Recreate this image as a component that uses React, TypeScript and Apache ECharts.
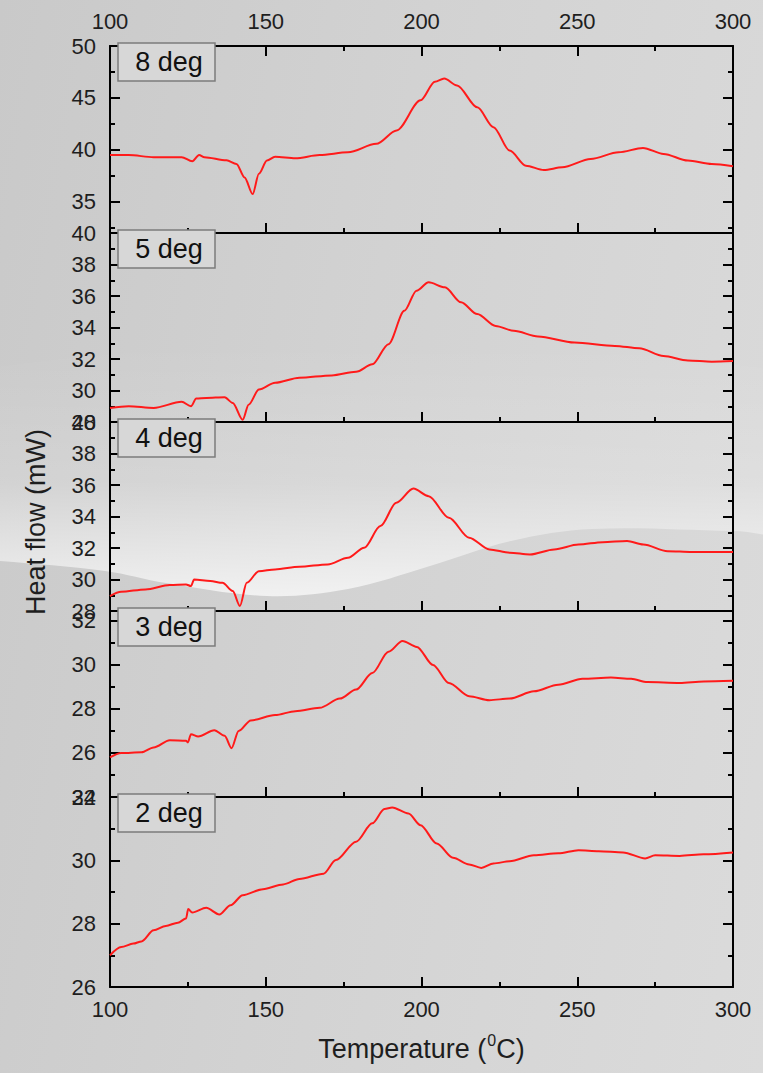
import React, { useEffect, useRef } from "react";
import * as echarts from "echarts";

// ---------- data ----------
const xTicks = [100, 150, 200, 250, 300];
const panelLabels = ["8 deg", "5 deg", "4 deg", "3 deg", "2 deg"];

const temp8 = [100, 106, 114, 123, 126.4, 128.6, 130.3, 137.4, 140.6, 143.2, 145.8, 147.8, 150.4, 153, 159.5, 167.3, 176.4, 185.5, 192, 199.7, 204.3, 207.3, 211.4, 217.9, 223.1, 228.3, 233.5, 239.3, 245.2, 254.3, 263.3, 271.1, 277.7, 285.5, 293.2, 300];
const flow8 = [39.5, 39.5, 39.3, 39.3, 38.9, 39.5, 39.3, 39.0, 38.65, 37.35, 35.75, 37.7, 38.97, 39.35, 39.2, 39.5, 39.77, 40.58, 41.87, 44.77, 46.55, 46.87, 46.2, 44.1, 42.19, 39.93, 38.48, 38.06, 38.32, 39.13, 39.77, 40.19, 39.61, 38.97, 38.64, 38.42];

const temp5 = [100, 106, 114, 123, 126, 127.7, 130.9, 136.8, 139.4, 142.6, 144.5, 147.8, 153, 160.8, 171.2, 179, 184.2, 189.4, 194.5, 198.4, 202.3, 207.5, 212.7, 217.9, 223.8, 229.6, 237.4, 249.1, 262.1, 269.9, 277.7, 285.5, 293.2, 300];
const flow5 = [28.89, 29.0, 28.89, 29.28, 29.0, 29.49, 29.53, 29.57, 29.21, 28.15, 29.1, 30.06, 30.49, 30.81, 30.96, 31.19, 31.66, 32.94, 35.06, 36.34, 36.87, 36.55, 35.6, 34.85, 34.1, 33.79, 33.43, 33.04, 32.83, 32.68, 32.19, 31.91, 31.83, 31.87];

const temp4 = [100, 103.6, 111.4, 119.2, 124.4, 126, 127, 132.2, 136.1, 139.4, 141.7, 143.9, 147.8, 153, 160.8, 169.9, 176.4, 181.6, 186.8, 191.9, 197.4, 202.3, 208.8, 215.3, 221.8, 228.3, 234.8, 242.6, 250.4, 258.2, 266, 271.2, 279, 286.8, 300];
const flow4 = [28.95, 29.22, 29.37, 29.65, 29.69, 29.58, 30.0, 29.9, 29.79, 29.27, 28.32, 29.79, 30.53, 30.64, 30.81, 30.96, 31.38, 32.01, 33.39, 34.87, 35.77, 35.29, 33.92, 32.65, 31.91, 31.7, 31.59, 31.91, 32.22, 32.37, 32.44, 32.22, 31.8, 31.74, 31.74];

const temp3 = [100, 103.6, 110.1, 114, 119.2, 124.4, 125, 126, 128.3, 133.5, 136.8, 139, 141.3, 145.2, 153, 159.5, 167.3, 173.8, 179, 184.2, 189.4, 193.9, 198.5, 203.7, 208.8, 215.3, 221.8, 228.3, 236.1, 243.9, 251.7, 260.8, 267.3, 272.5, 282.9, 290.6, 300];
const flow3 = [25.8, 26.0, 26.03, 26.25, 26.58, 26.55, 26.48, 26.85, 26.75, 27.03, 26.78, 26.22, 27.0, 27.48, 27.72, 27.9, 28.05, 28.47, 28.88, 29.63, 30.6, 31.09, 30.82, 30.0, 29.18, 28.58, 28.4, 28.47, 28.8, 29.1, 29.37, 29.43, 29.37, 29.22, 29.18, 29.25, 29.28];

const temp2 = [100, 103.6, 107.5, 110.1, 114, 117.9, 121.8, 124.4, 125.1, 126.4, 130.9, 135.1, 138.7, 142.6, 149.1, 155.6, 160.8, 168.6, 172.5, 179, 184.2, 188.1, 190.6, 195.8, 199.7, 204.9, 210.1, 215.3, 219.2, 223.1, 228.3, 236.1, 243.9, 250.4, 256.9, 264.7, 271.8, 275, 282.9, 290.6, 300];
const flow2 = [27.0, 27.26, 27.37, 27.44, 27.79, 27.93, 28.03, 28.16, 28.46, 28.35, 28.5, 28.29, 28.58, 28.9, 29.09, 29.24, 29.41, 29.58, 30.01, 30.59, 31.17, 31.62, 31.67, 31.48, 31.11, 30.53, 30.08, 29.87, 29.76, 29.9, 29.97, 30.16, 30.22, 30.32, 30.29, 30.25, 30.06, 30.16, 30.14, 30.19, 30.25];

const yMin = [32, 28, 28, 24, 26];
const yMax = [50, 40, 40, 32.45, 32];
const yMajor = [
  [35, 40, 45, 50],
  [28, 30, 32, 34, 36, 38, 40],
  [28, 30, 32, 34, 36, 38, 40],
  [24, 26, 28, 30, 32],
  [26, 28, 30, 32],
];
const yMinor = [
  [32.5, 37.5, 42.5, 47.5],
  [29, 31, 33, 35, 37, 39],
  [29, 31, 33, 35, 37, 39],
  [25, 27, 29, 31],
  [27, 29, 31],
];

const temps = [temp8, temp5, temp4, temp3, temp2];
const flows = [flow8, flow5, flow4, flow3, flow2];

// ---------- layout ----------
const FONT = '"Liberation Sans", Arial, Helvetica, sans-serif';
const gridTops = [46, 233, 422, 611, 797];
const gridBottoms = [233, 422, 611, 797, 987];
const LEFT = 110;
const RIGHT = 733;
const W = 763;
const H = 1073;
const TICK_FONT = 22;

export default function App() {
  const ref = useRef<HTMLDivElement>(null);

  useEffect(() => {
    if (!ref.current) return;
    const chart = echarts.init(ref.current, null, { renderer: "svg" });

    const line = { show: true, lineStyle: { color: "#000", width: 2 } };
    const tickStyle = { color: "#000", width: 2 };

    const grids = gridTops.map((t, i) => ({
      left: LEFT,
      width: RIGHT - LEFT,
      top: t,
      height: gridBottoms[i] - t,
    }));

    const xAxes: any[] = gridTops.map((_, i) => ({
      type: "value",
      gridIndex: i,
      position: "bottom",
      min: 100,
      max: 300,
      interval: 50,
      axisLine: line,
      axisTick: { show: true, inside: true, length: 10, lineStyle: tickStyle },
      minorTick: { show: true, splitNumber: 2, length: 5, lineStyle: tickStyle },
      splitLine: { show: false },
      minorSplitLine: { show: false },
      axisLabel: {
        show: i === 4,
        margin: 11,
        fontSize: TICK_FONT,
        color: "#1e1e1e",
        fontFamily: FONT,
      },
      name: i === 4 ? "{a|Temperature (}{s|0}{a|C)}" : "",
      nameLocation: "middle",
      nameGap: 45,
      nameTextStyle: {
        rich: {
          a: { fontSize: 27, fontFamily: FONT, color: "#1e1e1e", lineHeight: 34 },
          s: { fontSize: 16, fontFamily: FONT, color: "#1e1e1e", verticalAlign: "top", lineHeight: 34, padding: [0, 0, 8, 1] },
        },
      },
    }));
    xAxes.push({
      type: "value",
      gridIndex: 0,
      position: "top",
      min: 100,
      max: 300,
      interval: 50,
      axisLine: line,
      axisTick: { show: true, inside: true, length: 10, lineStyle: tickStyle },
      minorTick: { show: true, splitNumber: 2, length: 5, lineStyle: tickStyle },
      splitLine: { show: false },
      axisLabel: { show: true, margin: 14, fontSize: TICK_FONT, color: "#1e1e1e", fontFamily: FONT, customValues: xTicks },
    });

    const yAxes: any[] = [];
    gridTops.forEach((_, i) => {
      const base = { type: "value", gridIndex: i, min: yMin[i], max: yMax[i], splitLine: { show: false } };
      yAxes.push({
        ...base,
        position: "left",
        axisLine: line,
        axisTick: { show: true, inside: true, length: 10, lineStyle: tickStyle, customValues: yMajor[i] },
        axisLabel: { show: true, customValues: yMajor[i], margin: 14, fontSize: TICK_FONT, color: "#1e1e1e", fontFamily: FONT },
      });
      yAxes.push({
        ...base,
        position: "left",
        axisLine: { show: false },
        axisTick: { show: true, inside: true, length: 5, lineStyle: tickStyle, customValues: yMinor[i] },
        axisLabel: { show: false },
      });
      yAxes.push({
        ...base,
        position: "right",
        axisLine: line,
        axisTick: { show: true, inside: true, length: 10, lineStyle: tickStyle, customValues: yMajor[i] },
        axisLabel: { show: false },
      });
      yAxes.push({
        ...base,
        position: "right",
        axisLine: { show: false },
        axisTick: { show: true, inside: true, length: 5, lineStyle: tickStyle, customValues: yMinor[i] },
        axisLabel: { show: false },
      });
    });

    const series = temps.map((tx, i) => ({
      type: "line",
      xAxisIndex: i,
      yAxisIndex: i * 4,
      data: tx.map((x, k) => [x, flows[i][k]]),
      showSymbol: false,
      smooth: 0.3,
      smoothMonotone: "x",
      lineStyle: { color: "#ff1a1a", width: 2 },
      itemStyle: { color: "#ff1a1a" },
      z: 3,
    }));

    const boxes = gridTops.map((t, i) => ({
      type: "group",
      z: 20,
      children: [
        {
          type: "rect",
          shape: { x: 118, y: t - 3, width: 97, height: 38 },
          style: { fill: "#d7d7d7", stroke: "#7c7c7c", lineWidth: 1.5 },
          z: 20,
        },
        {
          type: "text",
          x: 169,
          y: t - 3 + 19,
          style: {
            text: panelLabels[i],
            fontSize: 27,
            fontFamily: FONT,
            fill: "#111",
            align: "center",
            verticalAlign: "middle",
          },
          z: 21,
        },
      ],
    }));

    const swoosh = {
      type: "polygon",
      z: -5,
      silent: true,
      shape: {
        points: [
          [-80, 380], [843, 380], [843, 533], [733, 531], [592, 529], [511, 541], [430, 566],
          [348, 589], [267, 596], [166, 583], [105, 571], [0, 561], [-80, 556],
        ],
        smooth: 0.35,
      },
      style: {
        fill: new echarts.graphic.LinearGradient(0, 0, 0, 1, [
          { offset: 0, color: "rgba(255,255,255,0)" },
          { offset: 0.55, color: "rgba(255,255,255,0.15)" },
          { offset: 1, color: "rgba(255,255,255,0.7)" },
        ]),
      },
    };

    const yTitle = {
      type: "text",
      x: 36,
      y: 522,
      rotation: Math.PI / 2,
      style: {
        text: "Heat flow (mW)",
        fontSize: 27,
        fontFamily: FONT,
        fill: "#1e1e1e",
        align: "center",
        verticalAlign: "middle",
      },
    };

    chart.setOption({
      animation: false,
      grid: grids,
      xAxis: xAxes,
      yAxis: yAxes,
      series,
      graphic: [swoosh, yTitle, ...boxes],
    });

    return () => chart.dispose();
  }, []);

  return (
    <div
      ref={ref}
      style={{
        position: "absolute",
        left: 0,
        top: 0,
        width: W,
        height: H,
        background: "linear-gradient(100deg, #c9c9c9 0%, #d2d2d2 45%, #dbdbdb 100%)",
      }}
    />
  );
}
